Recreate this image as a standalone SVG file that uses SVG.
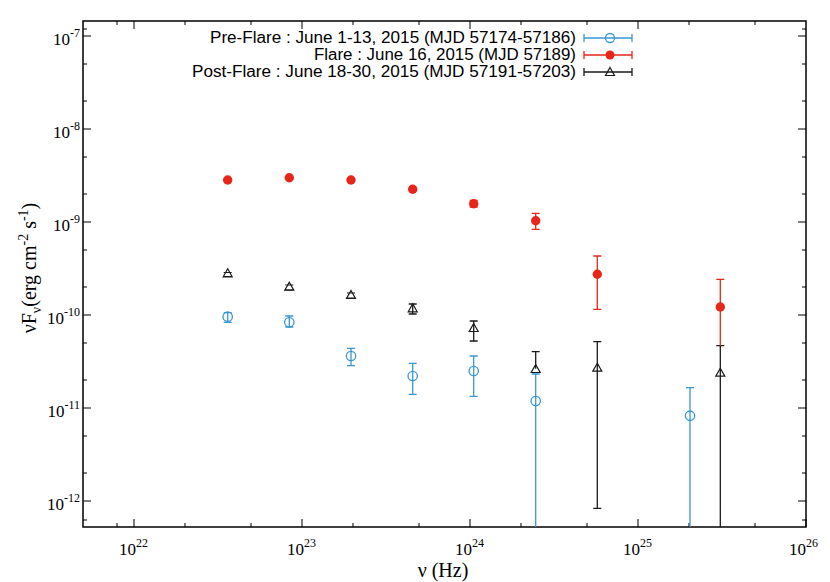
<svg xmlns="http://www.w3.org/2000/svg" width="830" height="582" viewBox="0 0 830 582">
<style>
.ax{stroke:#000;stroke-width:1;fill:none}
.fr{stroke:#000;stroke-width:1.5;fill:none}
.tl{font-family:"Liberation Serif",serif;font-size:17px;fill:#000}
.sup{font-size:12px}
.lg{font-family:"Liberation Sans",sans-serif;font-size:16px;fill:#000}
.b{stroke:#3a97d3;stroke-width:1.3;fill:none}
.r{stroke:#e8251a;stroke-width:1.3;fill:none}
.k{stroke:#1a1a1a;stroke-width:1.3;fill:none}
.bc{stroke:#3a97d3;stroke-width:1.3;fill:#fff;fill-opacity:0}
.rc{fill:#e8251a}
.kt{stroke:#1a1a1a;stroke-width:1.2;fill:none}
</style>
<rect width="830" height="582" fill="#fff"/>
<g id="axes">
<rect class="fr" x="83" y="21" width="723" height="506"/>
<path class="ax" d="M83,36h8M806,36h-8M83,129h8M806,129h-8M83,222h8M806,222h-8M83,315h8M806,315h-8M83,408h8M806,408h-8M83,501h8M806,501h-8
M83,101h4M806,101h-4M83,64h4M806,64h-4M83,194h4M806,194h-4M83,157h4M806,157h-4M83,287h4M806,287h-4M83,250h4M806,250h-4M83,380h4M806,380h-4M83,343h4M806,343h-4M83,473h4M806,473h-4M83,436h4M806,436h-4M83,520h4M806,520h-4M83,29h4M806,29h-4
M134,527v-8M134,21v8M302,527v-8M302,21v8M470,527v-8M470,21v8M638,527v-8M638,21v8M806,527v-8
M117,527v-4M117,21v4M185,527v-4M185,21v4M251,527v-4M251,21v4M353,527v-4M353,21v4M419,527v-4M419,21v4M521,527v-4M521,21v4M587,527v-4M587,21v4M689,527v-4M689,21v4M755,527v-4M755,21v4"/>
<text class="tl" text-anchor="end" x="80" y="45">10<tspan class="sup" dy="-8">-7</tspan></text>
<text class="tl" text-anchor="end" x="80" y="138">10<tspan class="sup" dy="-8">-8</tspan></text>
<text class="tl" text-anchor="end" x="80" y="231">10<tspan class="sup" dy="-8">-9</tspan></text>
<text class="tl" text-anchor="end" x="80" y="324">10<tspan class="sup" dy="-8">-10</tspan></text>
<text class="tl" text-anchor="end" x="80" y="417">10<tspan class="sup" dy="-8">-11</tspan></text>
<text class="tl" text-anchor="end" x="80" y="510">10<tspan class="sup" dy="-8">-12</tspan></text>
<text class="tl" x="119" y="555">10<tspan class="sup" dy="-8">22</tspan></text>
<text class="tl" x="287" y="555">10<tspan class="sup" dy="-8">23</tspan></text>
<text class="tl" x="455" y="555">10<tspan class="sup" dy="-8">24</tspan></text>
<text class="tl" x="623" y="555">10<tspan class="sup" dy="-8">25</tspan></text>
<text class="tl" x="789" y="555">10<tspan class="sup" dy="-8">26</tspan></text>
<text class="tl" style="font-size:20px" text-anchor="middle" x="443" y="577">ν (Hz)</text>
<text class="tl" style="font-size:20px" text-anchor="middle" transform="translate(36,268) rotate(-90)">νF<tspan style="font-size:14px" dy="5">ν</tspan><tspan dy="-5">(erg cm</tspan><tspan class="sup" style="font-size:14px" dy="-8">-2</tspan><tspan dy="8"> s</tspan><tspan class="sup" style="font-size:14px" dy="-8">-1</tspan><tspan dy="8">)</tspan></text>
</g>
<g id="legend">
<text class="lg" text-anchor="end" x="576" y="43" textLength="366" lengthAdjust="spacingAndGlyphs">Pre-Flare : June 1-13, 2015 (MJD 57174-57186)</text>
<text class="lg" text-anchor="end" x="576" y="60" textLength="262" lengthAdjust="spacingAndGlyphs">Flare : June 16, 2015 (MJD 57189)</text>
<text class="lg" text-anchor="end" x="576" y="77" textLength="384" lengthAdjust="spacingAndGlyphs">Post-Flare : June 18-30, 2015 (MJD 57191-57203)</text>
<path class="b" d="M584,38h48M584,34v8M632,34v8"/><circle class="bc" cx="610" cy="38" r="4.5"/>
<path class="r" d="M584,55h48M584,51v8M632,51v8"/><circle class="rc" cx="610" cy="55" r="4.5"/>
<path class="k" d="M584,72h48M584,68v8M632,68v8"/><path class="kt" d="M610,67.5l4.5,8h-9z"/>
</g>
<g id="connectors">
<path class="b" d="M227.7,312.7v9.6M223.7,312.7h8M223.7,322.3h8M289.3,316v11M285.3,316h8M285.3,327h8M351,348.3v17.4M347,348.3h8M347,365.7h8M412.7,363.3v31M408.7,363.3h8M408.7,394.3h8M473.7,356v40.3M469.7,356h8M469.7,396.3h8M535.7,374v153M531.7,374h8M690,387.7v139.3M686,387.7h8"/>
<path class="k" d="M412.7,304v10M408.7,304h8M408.7,314h8M473.7,321v20M469.7,321h8M469.7,341h8M535.7,351.7v17M531.7,351.7h8M597.3,341.7v166.6M593.3,341.7h8M593.3,508.3h8M720.3,345.7v181.3M716.3,345.7h8"/>
<path class="r" d="M535.7,213.3v16M531.7,213.3h8M531.7,229.3h8M597.3,256v53.3M593.3,256h8M593.3,309.3h8M720.3,279.3v66.4M716.3,279.3h8M473.7,200.5v6.5M469.7,200.5h8M469.7,207h8"/>
</g>
<g id="flare">
<circle class="rc" cx="227.7" cy="180" r="4.7"/><circle class="rc" cx="289.3" cy="177.7" r="4.7"/><circle class="rc" cx="351" cy="180" r="4.7"/><circle class="rc" cx="412.7" cy="189.3" r="4.7"/><circle class="rc" cx="473.7" cy="203.7" r="4.7"/><circle class="rc" cx="535.7" cy="220.7" r="4.7"/><circle class="rc" cx="597.3" cy="274.3" r="4.7"/><circle class="rc" cx="720.3" cy="307" r="4.7"/>
</g>
<g id="postflare">
<path class="kt" d="M227.7,268.8l4.5,8h-9zM289.3,282.2l4.5,8h-9zM351,290.5l4.5,8h-9zM412.7,303.8l4.5,8h-9zM473.7,323.5l4.5,8h-9zM535.7,364.5l4.5,8h-9zM597.3,363.2l4.5,8h-9zM720.3,368.2l4.5,8h-9z"/>
<path class="kt" d="M223.7,272.5h8M223.7,276.5h8M285.3,285h8M285.3,290h8M347,293h8M347,298h8"/>
</g>
<g id="preflare">
<circle class="bc" cx="227.7" cy="316.7" r="4.7"/><circle class="bc" cx="289.3" cy="322.3" r="4.7"/><circle class="bc" cx="351" cy="356" r="4.7"/><circle class="bc" cx="412.7" cy="376" r="4.7"/><circle class="bc" cx="473.7" cy="371" r="4.7"/><circle class="bc" cx="535.7" cy="401" r="4.7"/><circle class="bc" cx="690" cy="415.7" r="4.7"/>
</g>
</svg>
